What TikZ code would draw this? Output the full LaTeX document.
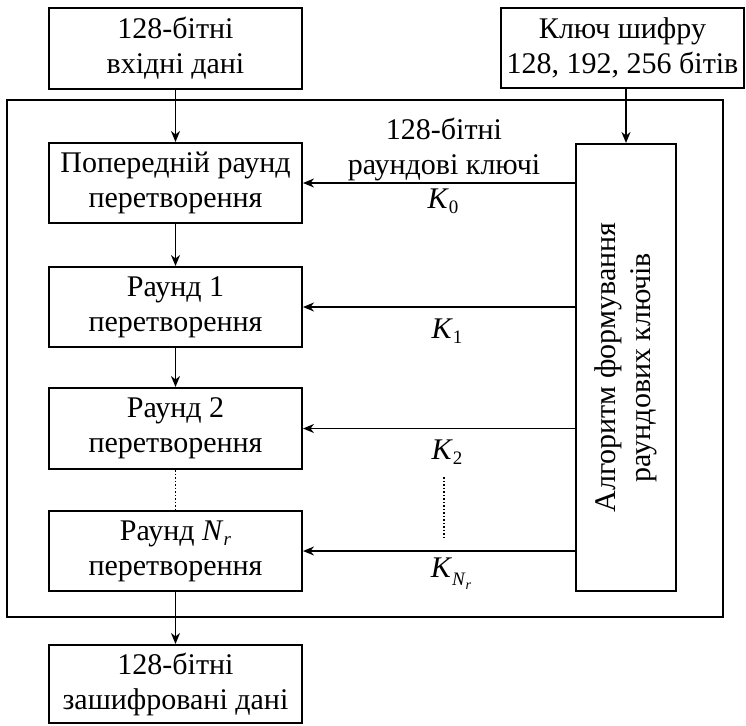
\documentclass[tikz,border=0pt]{standalone}
\usepackage{fontspec}
\setmainfont{Liberation Serif}
\usetikzlibrary{arrows.meta}
\newcommand{\txtsize}{\fontsize{30}{35}\selectfont}
\newcommand{\subsz}{\fontsize{19}{19}\selectfont}
\newcommand{\subsubsz}{\fontsize{14}{14}\selectfont}
\begin{document}
\begin{tikzpicture}[x=1pt,y=-1pt,
  box/.style={draw, line width=2pt, minimum width=253pt, minimum height=80pt,
    align=center, inner sep=0pt, font=\txtsize},
  frame/.style={draw, line width=2pt, inner sep=0pt},
  arr/.style={-{Stealth[length=11pt,width=9pt,inset=3.5pt]}, line width=1.7pt},
  dotline/.style={line width=1.5pt, dotted},
  lbl/.style={align=center, inner sep=0pt, font=\txtsize}]
\useasboundingbox (0,0) rectangle (746,725);
% outer frame
\node[frame, minimum width=716pt, minimum height=517pt] (outer) at (365,358.5) {};
% top boxes
\node[box, minimum height=81pt] (inp) at (175.5,48.5) {128-бітні\\вхідні дані};
\node[box, minimum width=243pt] (key) at (622.5,48) {Ключ шифру\\128, 192, 256 бітів};
% rounds
\node[box] (pre) at (175.5,183) {Попередній раунд\\перетворення};
\node[box] (r1) at (175.5,307) {Раунд 1\\перетворення};
\node[box, minimum height=81pt] (r2) at (175.5,428.5) {Раунд 2\\перетворення};
\node[box] (rN) at (175.5,551) {Раунд \textit{N}\raisebox{-5pt}{\subsz\textit{r}}\\перетворення};
\node[box, minimum height=78pt] (out) at (175.5,684) {128-бітні\\зашифровані дані};
% key schedule
\node[box, minimum width=100pt, minimum height=447pt] (alg) at (626,367.5) {};
\node[lbl, rotate=90] (algtxt) at (alg.center) {Алгоритм формування\\раундових ключів};
% vertical arrows
\draw[arr] (inp.south) -- (pre.north);
\draw[arr] (pre.south) -- (r1.north);
\draw[arr] (r1.south) -- (r2.north);
\draw[dotline] (r2.south) -- (rN.north);
\draw[arr] (rN.south) -- (out.north);
\draw[arr] (key.south -| alg.north) -- (alg.north);
% key arrows
\draw[arr] (alg.west |- pre.east) -- (pre.east);
\draw[arr] (alg.west |- r1.east) -- (r1.east);
\draw[arr] (alg.west |- r2.east) -- (r2.east);
\draw[arr] (alg.west |- rN.east) -- (rN.east);
% labels
\node[lbl] (klbl) at (444,149) {128-бітні\\раундові ключі};
\node[lbl] (k0) at (443,201) {\textit{K}\raisebox{-5pt}{\subsz 0}};
\node[lbl] (k1) at (447,331) {\textit{K}\raisebox{-5pt}{\subsz 1}};
\node[lbl] (k2) at (447,452) {\textit{K}\raisebox{-5pt}{\subsz 2}};
\node[lbl] (kN) at (451,574) {\textit{K}\raisebox{-8pt}{\subsz\textit{N}\raisebox{-4pt}{\subsubsz\textit{r}}}};
\coordinate (dtop) at (444,477);
\coordinate (dbot) at (444,538);
\draw[dotline] (dtop) -- (dbot);
\end{tikzpicture}
\end{document}
